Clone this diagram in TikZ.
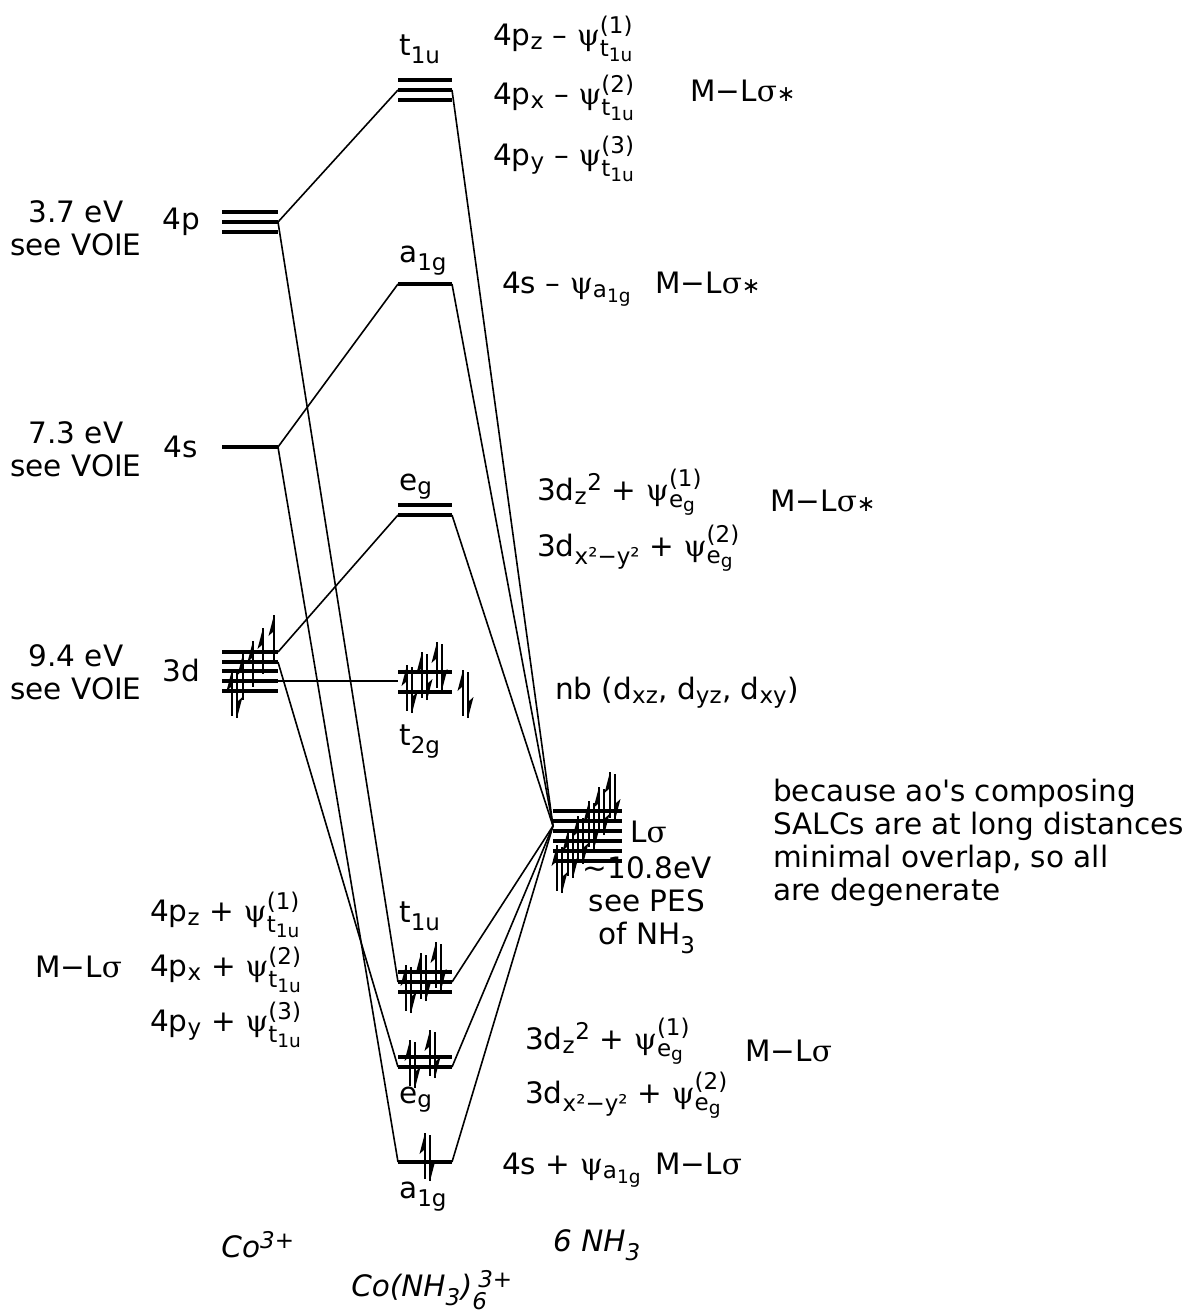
\documentclass[tikz,border=0pt]{standalone}
\usepackage{amsmath}
\usepackage{fontspec}
\setmainfont{DejaVu Sans}
\newfontfamily\grk{DejaVu Serif}
\DeclareMathSizes{29.5}{29.5}{23}{18.5}
\newcommand\mypsi{{\grk ψ}}
\newcommand\mysig{{\grk σ}}
\newcommand\myast{\scalebox{0.75}{∗}}
\newcommand\tlu{\text{t}_{\text{1u}}}
\newcommand\aog{\text{a}_{\text{1g}}}
\newcommand\egs{\text{e}_{\text{g}}}
\newcommand\hisup[1]{\text{\raisebox{4pt}{#1}}}
\newcommand\eup[2]{\draw[el] (#1,#2) -- ++(0,46); \fill (#1,#2) -- ++(-5.5,21) -- ++(5.5,-5) -- cycle;}
\newcommand\edn[2]{\draw[el] (#1,#2) -- ++(0,-46); \fill (#1,#2) -- ++(5.5,-21) -- ++(-5.5,5) -- cycle;}
\newcommand\epair[2]{\eup{#1}{#2}\edn{#1+5}{#2+48}}
\begin{document}
\begin{tikzpicture}[x=1pt,y=-1pt,
  lvl/.style={line width=4.5pt},
  conn/.style={line width=1.6pt},
  el/.style={line width=2.2pt},
  txt/.style={font=\fontsize{29.5}{33}\selectfont, inner sep=0pt},
  lab/.style={txt, anchor=base west},
  ctr/.style={txt, align=center},
  itl/.style={txt, font=\fontsize{29.5}{33}\selectfont\itshape}]
\useasboundingbox (0,0) rectangle (1185,1315);
% ---------- Co3+ levels
\foreach \y in {212,222,232} \draw[lvl] (222,\y) -- (278,\y);
\draw[lvl] (222,447) -- (278,447);
\foreach \y in {652,662,671,681,691} \draw[lvl] (222,\y) -- (278,\y);
\coordinate (p4) at (278,222);
\coordinate (s4) at (278,447);
\coordinate (d3a) at (278,652);
\coordinate (d3b) at (278,662);
\coordinate (d3c) at (278,681);
% ---------- complex levels
\foreach \y in {80,90,100} \draw[lvl] (398,\y) -- (452,\y);
\draw[lvl] (398,284) -- (452,284);
\foreach \y in {505,515} \draw[lvl] (398,\y) -- (452,\y);
\foreach \y in {672,692} \draw[lvl] (398,\y) -- (452,\y);
\foreach \y in {972,982,992} \draw[lvl] (398,\y) -- (452,\y);
\foreach \y in {1057,1067} \draw[lvl] (398,\y) -- (452,\y);
\draw[lvl] (398,1162) -- (452,1162);
\coordinate (t1uAL) at (398,90);  \coordinate (t1uAR) at (452,90);
\coordinate (a1gAL) at (398,284); \coordinate (a1gAR) at (452,284);
\coordinate (egAL) at (398,515);  \coordinate (egAR) at (452,515);
\coordinate (t2gL) at (398,681);
\coordinate (t1uBL) at (398,982); \coordinate (t1uBR) at (452,982);
\coordinate (egBL) at (398,1067); \coordinate (egBR) at (452,1067);
\coordinate (a1gBL) at (398,1162); \coordinate (a1gBR) at (452,1162);
% ---------- ligand levels
\foreach \y in {811,821,831,841,851,861} \draw[lvl] (553,\y) -- (622,\y);
\coordinate (Ls) at (553,826);
% ---------- connectors
\draw[conn] (p4) -- (t1uAL);
\draw[conn] (p4) -- (t1uBL);
\draw[conn] (s4) -- (a1gAL);
\draw[conn] (s4) -- (a1gBL);
\draw[conn] (d3a) -- (egAL);
\draw[conn] (d3b) -- (egBL);
\draw[conn] (d3c) -- (t2gL);
\foreach \c in {t1uAR,a1gAR,egAR,t1uBR,egBR,a1gBR} \draw[conn] (\c) -- (Ls);
% ---------- electrons
% 3d
\eup{274}{615}\eup{263}{628}\eup{253}{641}\eup{243}{654}\eup{232}{670}\edn{237}{718}
% t2g
\epair{407}{665}\epair{422}{652}\epair{437}{642}
\epair{463}{670}
% L sigma
\epair{557}{845}\epair{568}{830}\epair{578}{816}\epair{589}{801}\epair{599}{787}\epair{610}{772}
% t1u bonding
\epair{406}{965}\epair{421}{953}\epair{436}{942}
% eg bonding
\epair{410}{1040}\epair{430}{1030}
% a1g bonding
\epair{425}{1133}
% ---------- texts
\node[ctr] (l4p) at (76,228) {3.7 eV\\see VOIE};
\node[ctr] (n4p) at (181,222) {4p};
\node[ctr] (l4s) at (76,449) {7.3 eV\\see VOIE};
\node[ctr] (n4s) at (181,447) {4s};
\node[ctr] (l3d) at (76,672) {9.4 eV\\see VOIE};
\node[ctr] (n3d) at (181,670) {3d};
\node[lab] (tA) at (399,55) {$\tlu$};
\node[lab] (r1) at (493,45) {4p$_{\text{z}}$ – \mypsi$_{\tlu}^{\text{(1)}}$};
\node[lab] (r2) at (493,104) {4p$_{\text{x}}$ – \mypsi$_{\tlu}^{\text{(2)}}$};
\node[lab] (r3) at (493,165) {4p$_{\text{y}}$ – \mypsi$_{\tlu}^{\text{(3)}}$};
\node[lab] (m1) at (690,101) {M−L\mysig\myast};
\node[lab] (aA) at (399,262) {$\aog$};
\node[lab] (r4) at (502,293) {4s – \mypsi$_{\aog}$};
\node[lab] (m1b) at (655,293) {M−L\mysig\myast};
\node[lab] (eA) at (399,490) {$\egs$};
\node[lab] (r5) at (537,500) {3d$_{\text{z}}{}^{\text{2}}$ + \mypsi$_{\egs}^{\hisup{(1)}}$};
\node[lab] (r6) at (537,556) {3d$_{\text{x²−y²}}$ + \mypsi$_{\egs}^{\hisup{(2)}}$};
\node[lab] (m2) at (770,511) {M−L\mysig\myast};
\node[lab] (nb) at (555,699) {nb (d$_{\text{xz}}$, d$_{\text{yz}}$, d$_{\text{xy}}$)};
\node[lab] (tB) at (399,745) {$\text{t}_{\text{2g}}$};
\node[lab] (Lsig) at (630,842) {L\mysig};
\node[ctr] (pes) at (647,905) {∼10.8eV\\see PES\\of NH$_{\text{3}}$};
\node[txt, align=left, anchor=north west] (note) at (773,779) {because ao\textquotesingle s composing\\SALCs are at long distances\\minimal overlap, so all\\are degenerate};
\node[lab] (tC) at (399,922) {$\tlu$};
\node[lab] (r7) at (150,921) {4p$_{\text{z}}$ + \mypsi$_{\tlu}^{\text{(1)}}$};
\node[lab] (r8) at (150,976) {4p$_{\text{x}}$ + \mypsi$_{\tlu}^{\text{(2)}}$};
\node[lab] (r9) at (150,1031) {4p$_{\text{y}}$ + \mypsi$_{\tlu}^{\text{(3)}}$};
\node[lab] (m3) at (35,977) {M−L\mysig};
\node[lab] (r10) at (525,1049) {3d$_{\text{z}}{}^{\text{2}}$ + \mypsi$_{\egs}^{\hisup{(1)}}$};
\node[lab] (r11) at (525,1103) {3d$_{\text{x²−y²}}$ + \mypsi$_{\egs}^{\hisup{(2)}}$};
\node[lab] (m4) at (745,1061) {M−L\mysig};
\node[lab] (eB) at (399,1103) {$\egs$};
\node[lab] (r12) at (502,1174) {4s + \mypsi$_{\aog}$};
\node[lab] (m5) at (655,1174) {M−L\mysig};
\node[lab] (aB) at (399,1198) {$\aog$};
\node[itl] (co) at (258,1245) {Co$^{\text{\itshape 3+}}$};
\node[itl] (nh) at (597,1245) {6 NH$_{\text{\itshape 3}}$};
\node[itl] (cx) at (432,1290) {Co(NH$_{\text{\itshape 3}}$)$_{\text{\itshape 6}}^{\text{\itshape\hspace{6pt}3+}}$};
\end{tikzpicture}
\end{document}
